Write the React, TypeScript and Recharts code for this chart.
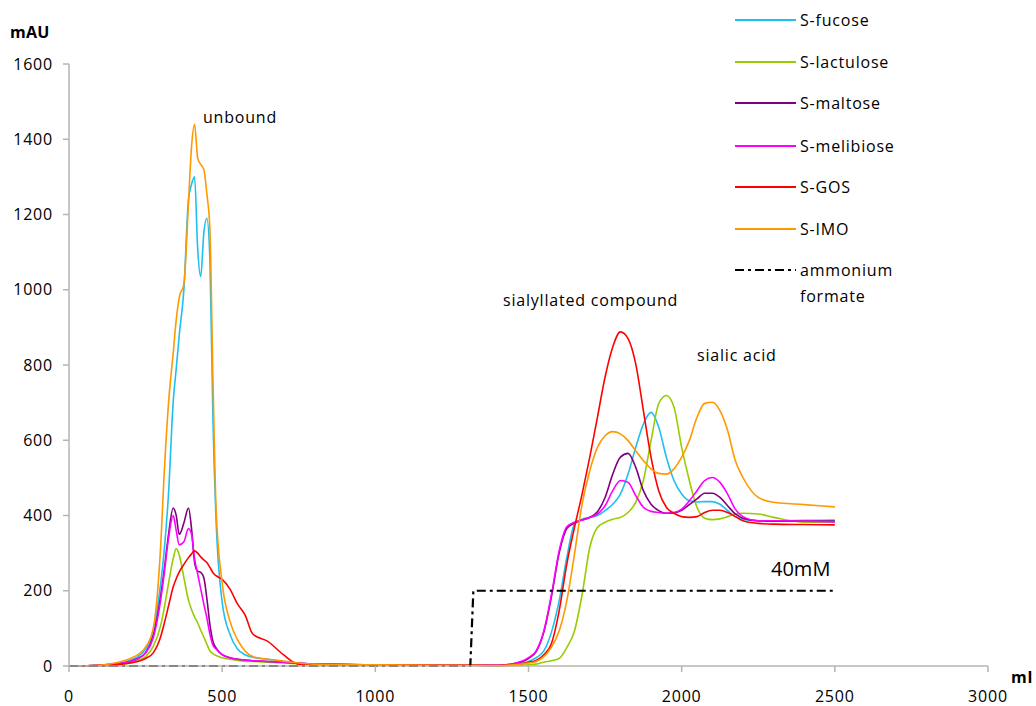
import React from "react";
import { LineChart, Line, XAxis, YAxis, Legend } from "recharts";

// elution volume (ml) at which each trace was read
const mlPoints = [
  0, 100, 150, 200, 225, 250, 275, 300, 310, 325, 340, 350, 360, 375, 390, 400, 410, 420, 430, 440,
  450, 460, 470, 480, 500, 525, 550, 575, 600, 650, 700, 750, 800, 1000, 1310, 1320,
  1400, 1450, 1500, 1525, 1550, 1575, 1600, 1625, 1650, 1675, 1700, 1725, 1750, 1775, 1800, 1825,
  1850, 1875, 1900, 1925, 1950, 1975, 2000, 2025, 2050, 2075, 2100, 2125, 2150, 2175, 2200, 2250,
  2300, 2400, 2500,
];

const sFucose = [
  0, 2, 5, 15, 25, 45, 90, 225, 300, 460, 700, 790, 880, 1000, 1240, 1280, 1300, 1110, 1035, 1150,
  1190, 1080, 650, 390, 170, 85, 45, 30, 23, 18, 12, 8, 5, 3, 2, 2,
  1, 4, 12, 22, 40, 90, 173, 288, 377, 390, 395, 400, 413, 430, 457, 510,
  581, 643, 674, 635, 555, 493, 457, 439, 436, 437, 437, 430, 413, 397, 390, 386,
  386, 387, 388,
];

const sLactulose = [
  0, 1, 3, 8, 15, 25, 52, 110, 150, 220, 285, 312, 295, 235, 175, 150, 130, 115, 95, 77,
  58, 40, 33, 28, 22, 18, 15, 13, 12, 10, 8, 6, 4, 3, 2, 2,
  0, 1, 3, 5, 10, 14, 20, 49, 93, 190, 315, 368, 382, 390, 395, 408,
  435, 493, 599, 697, 719, 688, 581, 493, 422, 393, 389, 391, 397, 404, 406, 404,
  395, 382, 382,
];

const sMaltose = [
  0, 2, 5, 12, 20, 35, 80, 190, 250, 350, 420, 400, 350, 380, 420, 365, 275, 252, 249, 235,
  180, 110, 65, 48, 30, 22, 18, 16, 14, 12, 10, 7, 5, 3, 2, 2,
  2, 6, 20, 38, 90, 185, 300, 365, 380, 388, 395, 410, 448, 510, 555, 565,
  528, 466, 430, 413, 406, 407, 414, 429, 444, 459, 459, 448, 426, 404, 393, 386,
  385, 385, 385,
];

const sMelibiose = [
  0, 2, 5, 12, 20, 35, 75, 180, 240, 340, 400, 360, 322, 330, 365, 350, 285, 245, 205, 165,
  128, 85, 55, 45, 30, 22, 18, 16, 14, 12, 10, 7, 5, 3, 2, 2,
  2, 6, 22, 40, 93, 190, 306, 370, 382, 388, 395, 404, 426, 466, 493, 488,
  453, 422, 411, 408, 406, 408, 417, 439, 466, 493, 501, 488, 457, 417, 397, 386,
  386, 385, 383,
];

const sGos = [
  0, 1, 3, 8, 12, 20, 35, 80, 110, 160, 210, 232, 250, 270, 288, 298, 306, 300, 290, 282,
  275, 262, 248, 240, 230, 205, 165, 135, 85, 65, 30, 5, 5, 3, 2, 2,
  1, 3, 10, 15, 30, 60, 146, 271, 368, 457, 555, 661, 768, 848, 888, 870,
  803, 679, 555, 466, 422, 406, 397, 395, 397, 408, 414, 414, 408, 397, 386, 379,
  377, 376, 375,
];

const sImo = [
  0, 2, 8, 20, 30, 50, 100, 330, 500, 700, 830, 920, 980, 1015, 1230, 1380, 1440, 1350, 1333, 1320,
  1255, 1160, 760, 420, 220, 120, 70, 40, 25, 18, 13, 8, 5, 3, 2, 2,
  1, 3, 8, 12, 25, 50, 93, 173, 297, 430, 519, 581, 612, 623, 617, 599,
  572, 546, 524, 512, 510, 524, 555, 599, 661, 698, 701, 679, 626, 546, 501, 448,
  435, 429, 423,
];

// ammonium formate step: 0 until ~1310 ml, then 40mM (drawn at 200 mAU)
const ammoniumFormate = mlPoints.map((ml) => (ml <= 1310 ? 0 : 200));

const xTicks = [0, 500, 1000, 1500, 2000, 2500, 3000];
const yTicks = [0, 200, 400, 600, 800, 1000, 1200, 1400, 1600];

const series = [
  { key: "fucose", name: "S-fucose", color: "#1fc0f0" },
  { key: "lactulose", name: "S-lactulose", color: "#99cc00" },
  { key: "maltose", name: "S-maltose", color: "#800080" },
  { key: "melibiose", name: "S-melibiose", color: "#ff00ff" },
  { key: "gos", name: "S-GOS", color: "#ff0000" },
  { key: "imo", name: "S-IMO", color: "#ff9900" },
];

const data = mlPoints.map((ml, i) => ({
  ml,
  fucose: sFucose[i],
  lactulose: sLactulose[i],
  maltose: sMaltose[i],
  melibiose: sMelibiose[i],
  gos: sGos[i],
  imo: sImo[i],
  ammonium: ammoniumFormate[i],
}));

const FONT = "'Open Sans', sans-serif";
const AXIS_GRAY = "#b4b4b4";
const DASH = "9 4 3 4";

const labelStyle: React.CSSProperties = {
  position: "absolute",
  fontFamily: FONT,
  fontSize: 16,
  letterSpacing: 0.8,
  lineHeight: "18px",
  color: "#000",
  whiteSpace: "nowrap",
};

const ChartLegend = () => {
  const rowTops = [20, 62, 103, 146, 187, 229];
  return (
    <div style={{ position: "relative", width: 260, height: 300 }}>
      {series.map((s, i) => (
        <div key={s.key} style={{ position: "absolute", left: 0, top: rowTops[i] - 9, height: 18 }}>
          <svg width={62} height={18} style={{ position: "absolute", left: 0, top: 0 }}>
            <line x1={0} x2={61} y1={9} y2={9} stroke={s.color} strokeWidth={2} />
          </svg>
          <span style={{ ...labelStyle, left: 65, top: 0 }}>{s.name}</span>
        </div>
      ))}
      <div style={{ position: "absolute", left: 0, top: 270 - 9 }}>
        <svg width={62} height={18} style={{ position: "absolute", left: 0, top: 0 }}>
          <line x1={0} x2={61} y1={9} y2={9} stroke="#000" strokeWidth={2} strokeDasharray={DASH} />
        </svg>
        <span style={{ ...labelStyle, left: 65, top: 0 }}>ammonium</span>
        <span style={{ ...labelStyle, left: 65, top: 26 }}>formate</span>
      </div>
    </div>
  );
};

export default function App() {
  const tickStyle = { fontFamily: FONT, fontSize: 16, fill: "#000", letterSpacing: 0.8 };
  return (
    <div style={{ position: "absolute", left: 0, top: 0, width: 1036, height: 706, background: "#fff" }}>
      <LineChart
        width={1036}
        height={706}
        data={data}
        margin={{ top: 64, right: 48, bottom: 10, left: 0 }}
      >
        <XAxis
          type="number"
          dataKey="ml"
          domain={[0, 3000]}
          ticks={xTicks}
          interval={0}
          height={30}
          stroke={AXIS_GRAY}
          strokeWidth={1.5}
          tickSize={6}
          tickMargin={19}
          tick={tickStyle}
        />
        <YAxis
          type="number"
          domain={[0, 1600]}
          ticks={yTicks}
          interval={0}
          width={69}
          stroke={AXIS_GRAY}
          strokeWidth={1.5}
          tickSize={6}
          tickMargin={10}
          tick={tickStyle}
        />
        <Legend
          layout="vertical"
          align="center"
          verticalAlign="middle"
          wrapperStyle={{ left: 735, top: 0, width: 260, height: 300 }}
          content={() => <ChartLegend />}
        />
        {series.map((s) => (
          <Line
            key={s.key}
            type="monotone"
            dataKey={s.key}
            name={s.name}
            stroke={s.color}
            strokeWidth={1.6}
            dot={false}
            isAnimationActive={false}
          />
        ))}
        <Line
          type="linear"
          dataKey="ammonium"
          name="ammonium formate"
          stroke="#000"
          strokeWidth={2.2}
          strokeDasharray={DASH}
          dot={false}
          isAnimationActive={false}
        />
      </LineChart>

      <span style={{ ...labelStyle, left: 10, top: 23, fontWeight: 700, letterSpacing: 0.3 }}>mAU</span>
      <span style={{ ...labelStyle, left: 1011, top: 668, fontWeight: 700 }}>ml</span>
      <span style={{ ...labelStyle, left: 203, top: 108 }}>unbound</span>
      <span style={{ ...labelStyle, left: 503, top: 291 }}>sialyllated compound</span>
      <span style={{ ...labelStyle, left: 697, top: 346 }}>sialic acid</span>
      <span style={{ ...labelStyle, left: 771, top: 557, fontSize: 20, letterSpacing: 0, lineHeight: "24px" }}>
        40mM
      </span>
    </div>
  );
}
